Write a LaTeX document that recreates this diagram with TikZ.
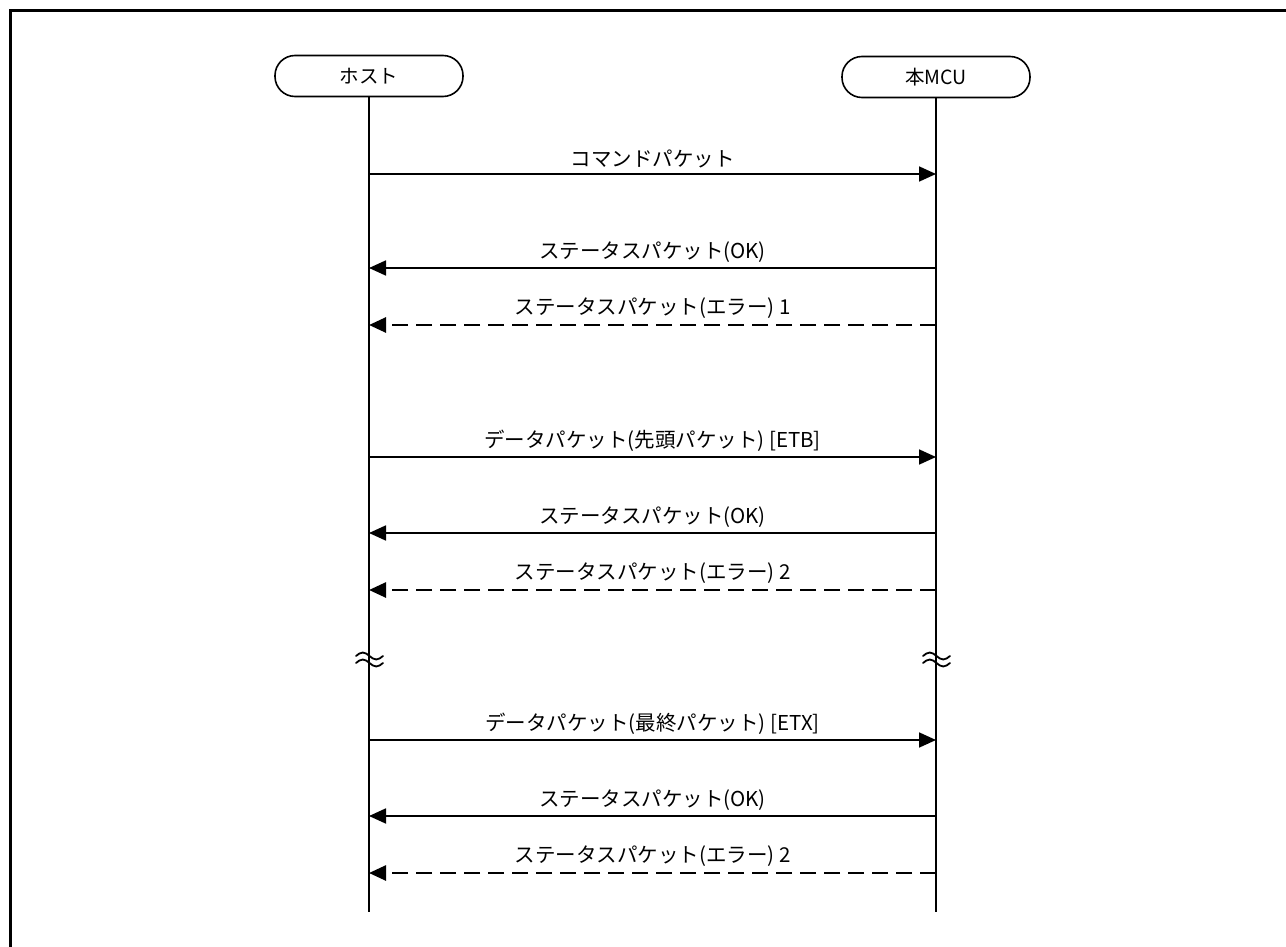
\documentclass[tikz,border=0pt]{standalone}
\usepackage{fontspec}
\setmainfont{Noto Sans CJK JP}
\usepackage{xcolor}
\usetikzlibrary{positioning, arrows.meta}
\definecolor{lineBlack}{RGB}{0,0,0}

\begin{document}
\begin{tikzpicture}[x=1pt, y=-1pt,
  actor/.style={draw=lineBlack, line width=1.6pt, rounded corners=20pt,
                minimum width=188pt, minimum height=41pt,
                font=\fontsize{19.5}{21}\selectfont},
  lifeline/.style={draw=lineBlack, line width=1.8pt},
  msg/.style={line width=1.8pt, -{Triangle[length=17pt, width=15pt]}},
  errmsg/.style={msg, line width=2.6pt, dash pattern=on 16pt off 8pt},
  lbl/.style={above=5pt, inner sep=0pt, font=\fontsize{20.5}{22}\selectfont},
  brk/.style={line width=1.8pt, line cap=round},
]
  \useasboundingbox (0,0) rectangle (1286,947);
  % frame, cut at right and bottom
  \draw[line width=3pt] (10.5,947) -- (10.5,10.5) -- (1286,10.5);

  % actors
  \node[actor] (host) at (369,76) {ホスト};
  \node[actor] (mcu) at (936,77) {本MCU};
  \coordinate (hostEnd) at (369,912);
  \coordinate (mcuEnd) at (936,912);
  \draw[lifeline] (host) -- (hostEnd);
  \draw[lifeline] (mcu) -- (mcuEnd);

  % command
  \coordinate (h1) at (369,174); \coordinate (m1) at (936,174);
  \draw[msg] (h1) -- node[lbl] {コマンドパケット} (m1);
  \coordinate (h2) at (369,268); \coordinate (m2) at (936,268);
  \draw[msg] (m2) -- node[lbl] {ステータスパケット(OK)} (h2);
  \coordinate (h3) at (369,325); \coordinate (m3) at (936,325);
  \draw[errmsg] (m3) -- node[lbl] {ステータスパケット(エラー) 1} (h3);

  % first data packet
  \coordinate (h4) at (369,457); \coordinate (m4) at (936,457);
  \draw[msg] (h4) -- node[lbl] {データパケット(先頭パケット) [ETB]} (m4);
  \coordinate (h5) at (369,533); \coordinate (m5) at (936,533);
  \draw[msg] (m5) -- node[lbl] {ステータスパケット(OK)} (h5);
  \coordinate (h6) at (369,590); \coordinate (m6) at (936,590);
  \draw[errmsg] (m6) -- node[lbl] {ステータスパケット(エラー) 2} (h6);

  % break marks
  \draw[brk] (356,656) sin (362.75,652.5) cos (369.5,656) sin (376.25,659.5) cos (383,656);
  \draw[brk] (356,663) sin (362.75,659.5) cos (369.5,663) sin (376.25,666.5) cos (383,663);
  \draw[brk] (923,656) sin (929.75,652.5) cos (936.5,656) sin (943.25,659.5) cos (950,656);
  \draw[brk] (923,663) sin (929.75,659.5) cos (936.5,663) sin (943.25,666.5) cos (950,663);

  % last data packet
  \coordinate (h7) at (369,740); \coordinate (m7) at (936,740);
  \draw[msg] (h7) -- node[lbl] {データパケット(最終パケット) [ETX]} (m7);
  \coordinate (h8) at (369,816); \coordinate (m8) at (936,816);
  \draw[msg] (m8) -- node[lbl] {ステータスパケット(OK)} (h8);
  \coordinate (h9) at (369,873); \coordinate (m9) at (936,873);
  \draw[errmsg] (m9) -- node[lbl] {ステータスパケット(エラー) 2} (h9);
\end{tikzpicture}
\end{document}
